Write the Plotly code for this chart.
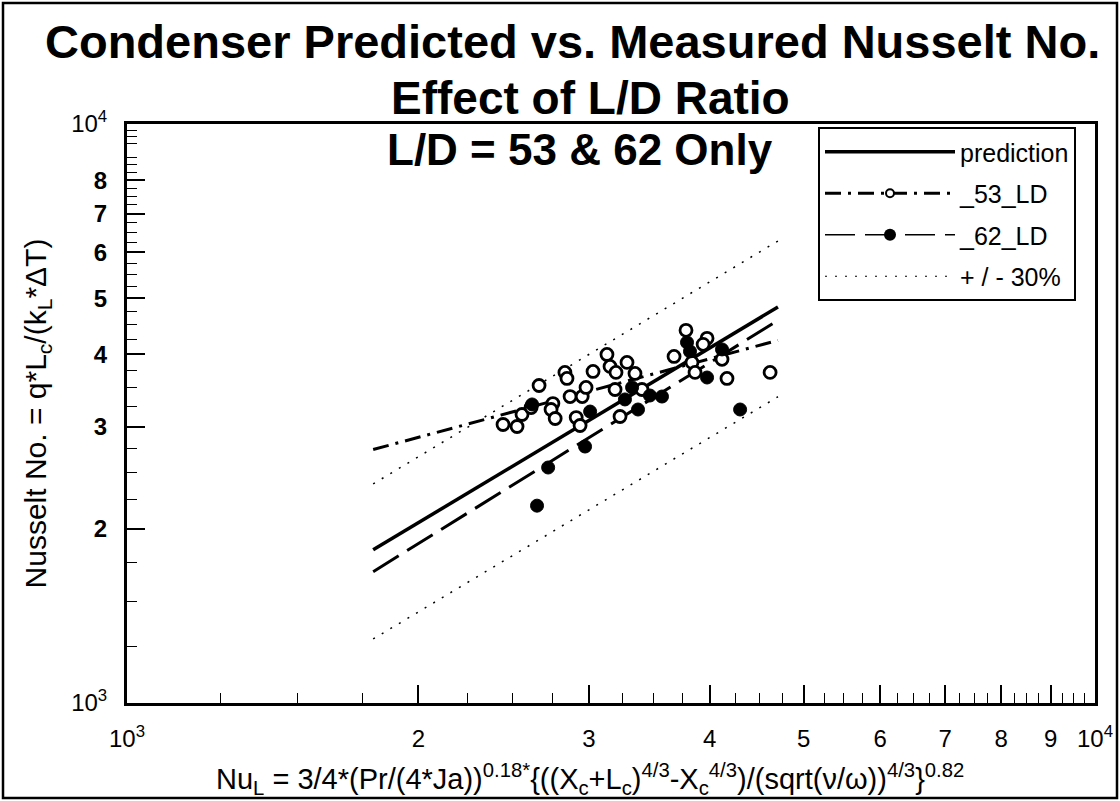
import plotly.graph_objects as go

# ---------------- data ----------------
pred_x = [1796, 4704]
pred_y = [1839, 4830]
plus30_y = [2390, 6280]
minus30_y = [1290, 3380]

ld53_fit_x = [1796, 4704]
ld53_fit_y = [2740, 4230]
ld62_fit_x = [1796, 4704]
ld62_fit_y = [1686, 4580]

ld53_x = [2446, 2529, 2559, 2615, 2665, 2754, 2742, 2769, 2834, 2848, 2869,
          2911, 2953, 2980, 2938, 3030, 3132, 3155, 3200, 3193, 3285, 3348,
          3231, 3404, 3674, 3780, 3834, 3862, 3974, 3937, 4118, 4167, 4617]
ld53_y = [3027, 3003, 3150, 3238, 3535, 3290, 3213, 3100, 3724, 3635, 3383,
          3112, 3383, 3508, 3015, 3738, 4000, 3814, 3724, 3479, 3875, 3709,
          3125, 3479, 3968, 4402, 3875, 3724, 4264, 4163, 3922, 3635, 3724]

ld62_x = [2652, 2723, 2973, 3009, 2621, 3269, 3325, 3372, 3469, 3570, 3789,
          3816, 3974, 4118, 4299]
ld62_y = [2192, 2551, 2773, 3187, 3278, 3344, 3508, 3213, 3397, 3383, 4196,
          4048, 3649, 4080, 3213]

x_major_vals = [1000, 2000, 3000, 4000, 5000, 6000, 7000, 8000, 9000, 10000]
x_major_text = ["10<sup>3</sup>", "2", "3", "4", "5", "6", "7", "8", "9", "10<sup>4</sup>"]
y_major_vals = [1000, 2000, 3000, 4000, 5000, 6000, 7000, 8000, 10000]
y_major_text = ["10<sup>3</sup>", "<b>2</b>", "<b>3</b>", "<b>4</b>", "<b>5</b>",
                "<b>6</b>", "<b>7</b>", "<b>8</b>", "10<sup>4</sup>"]
minor_vals = [1250, 1500, 1750, 2250, 2500, 2750, 3250, 3500, 3750, 4250, 4500,
              4750, 5250, 5500, 5750, 6250, 6500, 6750, 7250, 7500, 7750, 8250,
              8500, 8750, 9250, 9500, 9750]

title_lines = ["Condenser Predicted vs. Measured Nusselt No.",
               "Effect of L/D Ratio",
               "L/D = 53 & 62 Only"]
x_title = ("Nu<sub>L</sub> = 3/4*(Pr/(4*Ja))<sup>0.18*</sup>{((X<sub>c</sub>+L<sub>c</sub>)"
           "<sup>4/3</sup>-X<sub>c</sub><sup>4/3</sup>)/(sqrt(\u03bd/\u03c9))<sup>4/3</sup>}<sup>0.82</sup>")
y_title = "Nusselt No. = q*L<sub>c</sub>/(k<sub>L</sub>*\u0394T)"

FONT = "Liberation Sans, Arial, Helvetica, sans-serif"

# layout geometry (pixels)
L, R, T, B = 127, 25, 124, 98
W = 1120 - L - R
H = 801 - T - B


def px(x):
    return (x - L) / W


def py(y):
    return (801 - B - y) / H


# ---------------- figure ----------------
fig = go.Figure()

DASH53 = "16px,7px,3px,7px"
DASH62 = "30px,10px"
DOT = "2px,8px"

fig.add_trace(go.Scatter(x=pred_x, y=pred_y, mode="lines", showlegend=False,
                         line=dict(color="black", width=3.5)))
fig.add_trace(go.Scatter(x=ld53_fit_x, y=ld53_fit_y, mode="lines", showlegend=False,
                         line=dict(color="black", width=3, dash=DASH53)))
fig.add_trace(go.Scatter(x=ld62_fit_x, y=ld62_fit_y, mode="lines", showlegend=False,
                         line=dict(color="black", width=3, dash=DASH62)))
fig.add_trace(go.Scatter(x=pred_x, y=plus30_y, mode="lines", showlegend=False,
                         line=dict(color="black", width=1.5, dash=DOT)))
fig.add_trace(go.Scatter(x=pred_x, y=minus30_y, mode="lines", showlegend=False,
                         line=dict(color="black", width=1.5, dash=DOT)))
fig.add_trace(go.Scatter(x=ld53_x, y=ld53_y, mode="markers", showlegend=False,
                         marker=dict(symbol="circle", size=12, color="white",
                                     line=dict(color="black", width=2.8))))
fig.add_trace(go.Scatter(x=ld62_x, y=ld62_y, mode="markers", showlegend=False,
                         marker=dict(symbol="circle", size=13, color="black",
                                     line=dict(color="black", width=1))))

# legend entries
fig.add_trace(go.Scatter(x=[None], y=[None], mode="lines", name="prediction",
                         legendgroup="a", line=dict(color="black", width=3.5)))
fig.add_trace(go.Scatter(x=[None], y=[None], mode="lines+markers", name="_53_LD",
                         legendgroup="b", line=dict(color="black", width=3, dash=DASH53),
                         marker=dict(symbol="circle", size=8, color="white",
                                     line=dict(color="black", width=2))))
fig.add_trace(go.Scatter(x=[None], y=[None], mode="lines+markers", name="_62_LD",
                         legendgroup="c", line=dict(color="black", width=1.5, dash=DASH62),
                         marker=dict(symbol="circle", size=12, color="black")))
fig.add_trace(go.Scatter(x=[None], y=[None], mode="lines", name="+ / - 30%",
                         legendgroup="d", line=dict(color="black", width=1.2, dash=DOT)))

# title lines
title_pos = [(572, 41, 47), (590, 98, 46), (580, 149, 44)]
for txt, (tx, ty, fs) in zip(title_lines, title_pos):
    fig.add_annotation(text=txt, x=px(tx), y=py(ty), xref="paper", yref="paper",
                       showarrow=False, xanchor="center", yanchor="middle",
                       font=dict(family=FONT, size=fs, color="black", weight="bold"))

# x-axis title (placed as an annotation to match the reference position)
fig.add_annotation(text=x_title, x=px(590), y=py(779), xref="paper", yref="paper",
                   showarrow=False, xanchor="center", yanchor="middle",
                   font=dict(family=FONT, size=29, color="black"))

axis_common = dict(type="log", range=[3, 4], showgrid=False, zeroline=False,
                   showline=True, linecolor="black", linewidth=3, mirror=True,
                   ticks="inside", ticklen=18, tickwidth=1.5, tickcolor="black",
                   tickmode="array", ticklabeloverflow="allow", automargin=False,
                   minor=dict(tickmode="array", tickvals=minor_vals, ticks="inside",
                              ticklen=10, tickwidth=1, tickcolor="black"))

fig.update_layout(
    width=1120, height=801,
    margin=dict(l=L, r=R, t=T, b=B),
    paper_bgcolor="white", plot_bgcolor="white",
    font=dict(family=FONT, color="black", size=22),
    xaxis=dict(**axis_common, tickvals=x_major_vals, ticktext=x_major_text,
               tickfont=dict(size=24), ticklabelstandoff=12),
    yaxis=dict(**axis_common, tickvals=y_major_vals, ticktext=y_major_text,
               tickfont=dict(size=24), ticklabelstandoff=12,
               title=dict(text=y_title, font=dict(size=30), standoff=16)),
    legend=dict(x=px(818), y=py(127), xanchor="left", yanchor="top",
                bgcolor="white", bordercolor="black", borderwidth=2,
                font=dict(size=25), itemwidth=130, tracegroupgap=6,
                traceorder="grouped"),
    shapes=[dict(type="rect", xref="paper", yref="paper",
                 x0=px(3), x1=px(1117), y0=py(798), y1=py(3),
                 line=dict(color="black", width=2.5), layer="below")],
)

fig.write_html("out.html", config={"displayModeBar": False},
               post_script="document.body.style.margin='0px';")
